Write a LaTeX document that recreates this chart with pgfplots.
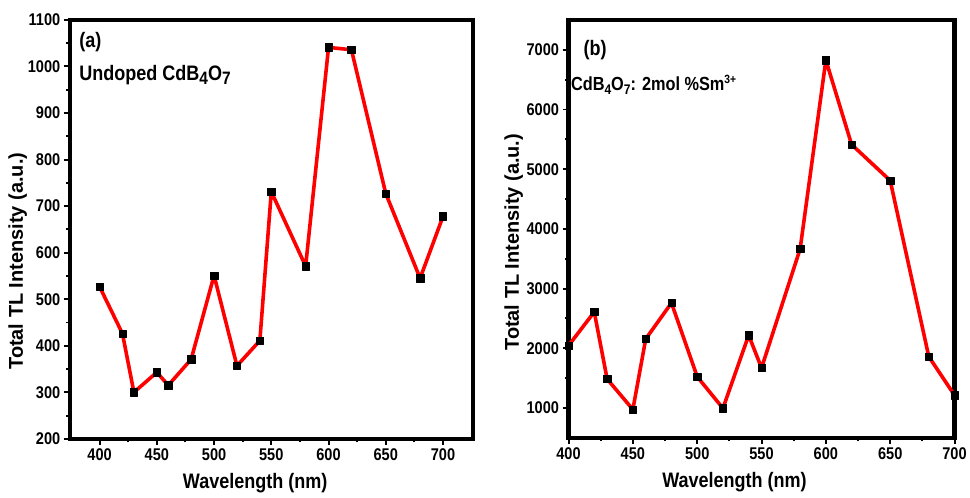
\documentclass[border=0pt]{standalone}
\usepackage{fontspec}
\setmainfont{Liberation Sans}
\newfontfamily\narrow[FakeStretch=0.86]{Liberation Sans}
\usepackage{pgfplots}
\pgfplotsset{compat=1.18}
\newcommand\sub[2]{\raisebox{-0.35ex}{\fontsize{#1}{#1}\selectfont #2}}
\newcommand\sups[2]{\raisebox{0.75ex}{\fontsize{#1}{#1}\selectfont #2}}
\pgfplotsset{
  tlstyle/.style={
    scale only axis,
    axis line style={line width=4.3bp},
    tick align=outside,
    xtick pos=bottom, ytick pos=left,
    major tick length=6bp, minor tick length=3.5bp,
    every tick/.style={black, line width=2bp},
    minor x tick num=1, minor y tick num=1,
    /pgf/number format/assume math mode=true,
    /pgf/number format/1000 sep={},
    tick label style={font=\narrow\bfseries\fontsize{17bp}{17bp}\selectfont},
    x label style={font=\narrow\bfseries\fontsize{21bp}{21bp}\selectfont, anchor=base},
    y label style={font=\bfseries\fontsize{20bp}{20bp}\selectfont, anchor=center},
    xlabel={Wavelength (nm)},
    ylabel={Total TL Intensity (a.u.)},
  },
  tlplot/.style={color=red, line width=3.6bp, line join=round, mark=square*, mark size=3.7bp,
      mark options={fill=black, draw=black, line width=0.5bp, solid}},
}
\begin{document}
\begin{tikzpicture}
\path (-70bp,-59bp) rectangle (900bp,440bp);
\begin{axis}[tlstyle, at={(0bp,0bp)}, anchor=south west,
  width=404bp, height=420bp,
  xmin=374, xmax=726, ymin=200, ymax=1100,
  xtick={400,450,...,700}, ytick={200,300,...,1100},
  x label style={at={(axis description cs:0.46,0)}, yshift=-50bp},
  y label style={at={(axis description cs:-0.129,0.424)}},
]
\addplot[tlplot] coordinates {
(400,527) (420,426) (430,300) (450,343) (460,315) (480,371) (500,551)
(520,357) (540,411) (550,731) (580,571) (600,1041) (620,1036) (650,727)
(680,545) (700,678)};
\node[anchor=west, font=\narrow\bfseries\fontsize{21bp}{21bp}\selectfont] at (axis description cs:0.015,0.948) {(a)};
\node[anchor=west, font=\narrow\bfseries\fontsize{21bp}{21bp}\selectfont] at (axis description cs:0.015,0.869) {Undoped CdB\sub{18bp}{4}O\sub{18bp}{7}};
\end{axis}
\begin{axis}[tlstyle, at={(500bp,1bp)}, anchor=south west,
  width=387bp, height=419bp,
  xmin=400, xmax=700, ymin=500, ymax=7500,
  xtick={400,450,...,700}, ytick={1000,2000,...,7000},
  x label style={at={(axis description cs:0.43,0)}, yshift=-50bp},
  y label style={at={(axis description cs:-0.142,0.468)}},
]
\addplot[tlplot] coordinates {
(400,2045) (420,2609) (430,1486) (450,975) (460,2157) (480,2760) (500,1525)
(520,995) (540,2219) (550,1671) (580,3665) (600,6827) (620,5413) (650,4810)
(680,1860) (700,1213)};
\node[anchor=west, font=\narrow\bfseries\fontsize{21bp}{21bp}\selectfont] at (axis description cs:0.03,0.928) {(b)};
\node[anchor=west, inner sep=0pt, font=\narrow\bfseries\fontsize{19bp}{19bp}\selectfont] at (axis description cs:0.006,0.845) {CdB\sub{14bp}{4}O\sub{14bp}{7}: 2mol \%Sm\sups{12bp}{3+}};
\end{axis}
\end{tikzpicture}
\end{document}
